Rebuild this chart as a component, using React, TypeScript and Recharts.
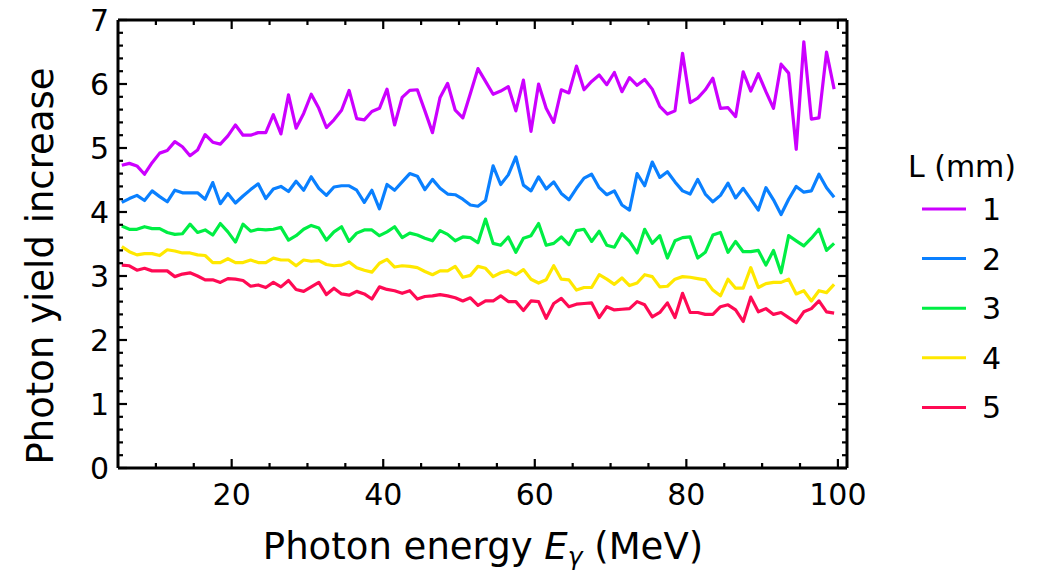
import React from 'react';
import { LineChart, Line, XAxis, YAxis, ReferenceLine } from 'recharts';

// Photon energy bin centres (MeV)
const energies = [
  5.5, 6.5, 7.5, 8.5, 9.5, 10.5, 11.5, 12.5, 13.5, 14.5, 15.5, 16.5, 17.5, 18.5, 19.5, 20.5,
  21.5, 22.5, 23.5, 24.5, 25.5, 26.5, 27.5, 28.5, 29.5, 30.5, 31.5, 32.5, 33.5, 34.5, 35.5, 36.5,
  37.5, 38.5, 39.5, 40.5, 41.5, 42.5, 43.5, 44.5, 45.5, 46.5, 47.5, 48.5, 49.5, 50.5, 51.5, 52.5,
  53.5, 54.5, 55.5, 56.5, 57.5, 58.5, 59.5, 60.5, 61.5, 62.5, 63.5, 64.5, 65.5, 66.5, 67.5, 68.5,
  69.5, 70.5, 71.5, 72.5, 73.5, 74.5, 75.5, 76.5, 77.5, 78.5, 79.5, 80.5, 81.5, 82.5, 83.5, 84.5,
  85.5, 86.5, 87.5, 88.5, 89.5, 90.5, 91.5, 92.5, 93.5, 94.5, 95.5, 96.5, 97.5, 98.5, 99.5,
];

// L = 1 mm
const yieldL1 = [
  4.73, 4.76, 4.72, 4.59, 4.77, 4.92, 4.96, 5.10, 5.02, 4.88, 4.97, 5.21, 5.09, 5.06, 5.19, 5.36,
  5.20, 5.20, 5.24, 5.24, 5.52, 5.22, 5.83, 5.31, 5.54, 5.84, 5.62, 5.32, 5.44, 5.59, 5.90, 5.46,
  5.44,
  5.57, 5.62, 5.92, 5.36, 5.79, 5.90, 5.91, 5.58, 5.24, 5.79, 6.01, 5.59, 5.47, 5.85, 6.24, 6.04,
  5.84, 5.89, 5.96, 5.58, 6.06, 5.26, 6.00, 5.62, 5.40, 5.91, 5.86, 6.28, 5.91, 6.04, 6.14, 5.99,
  6.18, 5.88, 6.10, 5.98, 6.07, 5.92, 5.65, 5.53, 5.58, 6.48, 5.71, 5.78, 5.91, 6.09, 5.62, 5.63,
  5.49, 6.19, 5.89, 6.16, 5.88, 5.62, 6.31, 6.17, 4.98, 6.66, 5.45, 5.47, 6.50, 5.92,
];

// L = 2 mm
const yieldL2 = [
  4.15, 4.21, 4.26, 4.18, 4.33, 4.24, 4.16, 4.34, 4.30, 4.30, 4.30, 4.20, 4.46, 4.13, 4.29, 4.14,
  4.25, 4.35, 4.44, 4.21, 4.36, 4.40, 4.32, 4.48, 4.34, 4.55, 4.37, 4.26, 4.39, 4.41, 4.41, 4.34,
  4.15,
  4.34, 4.05, 4.43, 4.34, 4.47, 4.60, 4.56, 4.35, 4.51, 4.37, 4.28, 4.27, 4.20, 4.11, 4.09, 4.18,
  4.72, 4.43, 4.58, 4.86, 4.42, 4.33, 4.55, 4.36, 4.47, 4.29, 4.19, 4.37, 4.53, 4.59, 4.38, 4.27,
  4.33, 4.11, 4.03, 4.60, 4.41, 4.78, 4.54, 4.63, 4.47, 4.33, 4.28, 4.51, 4.28, 4.16, 4.26, 4.45,
  4.22, 4.37, 4.20, 4.03, 4.38, 4.19, 3.96, 4.20, 4.40, 4.31, 4.33, 4.59, 4.38, 4.23,
];

// L = 3 mm
const yieldL3 = [
  3.78, 3.73, 3.73, 3.77, 3.74, 3.74, 3.68, 3.65, 3.66, 3.81, 3.68, 3.72, 3.64, 3.82, 3.69, 3.53,
  3.81, 3.70, 3.73, 3.72, 3.73, 3.76, 3.56, 3.63, 3.73, 3.79, 3.75, 3.56, 3.69, 3.77, 3.54, 3.67,
  3.72,
  3.72, 3.63, 3.69, 3.77, 3.60, 3.67, 3.64, 3.59, 3.55, 3.71, 3.65, 3.55, 3.61, 3.60, 3.52, 3.89,
  3.51, 3.48, 3.61, 3.37, 3.59, 3.63, 3.82, 3.48, 3.51, 3.61, 3.49, 3.71, 3.73, 3.54, 3.70, 3.48,
  3.45, 3.66, 3.54, 3.36, 3.73, 3.51, 3.63, 3.28, 3.55, 3.60, 3.61, 3.28, 3.37, 3.64, 3.68, 3.37,
  3.54, 3.38, 3.38, 3.40, 3.17, 3.40, 3.05, 3.63, 3.55, 3.47, 3.59, 3.73, 3.40, 3.51,
];

// L = 4 mm
const yieldL4 = [
  3.46, 3.38, 3.33, 3.35, 3.35, 3.32, 3.41, 3.39, 3.36, 3.36, 3.33, 3.32, 3.21, 3.21, 3.27, 3.21,
  3.21, 3.25, 3.21, 3.21, 3.28, 3.25, 3.25, 3.16, 3.25, 3.23, 3.24, 3.18, 3.16, 3.17, 3.22, 3.13,
  3.09,
  3.06, 3.20, 3.26, 3.14, 3.16, 3.15, 3.13, 3.07, 3.02, 3.08, 3.08, 3.15, 2.98, 3.01, 3.15, 3.12,
  2.99, 3.05, 3.08, 3.02, 3.10, 2.95, 2.89, 2.94, 3.16, 2.95, 2.94, 2.78, 2.82, 2.82, 3.02, 2.95,
  2.87, 2.97, 2.85, 2.89, 3.02, 2.99, 2.83, 2.84, 2.95, 2.99, 2.98, 2.96, 2.94, 2.78, 2.69, 2.95,
  2.81, 2.81, 3.13, 2.82, 2.88, 2.90, 2.90, 2.95, 2.72, 2.77, 2.61, 2.77, 2.74, 2.87,
];

// L = 5 mm
const yieldL5 = [
  3.17, 3.16, 3.09, 3.12, 3.08, 3.08, 3.08, 2.99, 3.03, 3.05, 3.00, 2.94, 2.94, 2.90, 2.96, 2.95,
  2.93, 2.84, 2.86, 2.82, 2.90, 2.83, 2.93, 2.79, 2.76, 2.83, 2.90, 2.71, 2.81, 2.72, 2.70, 2.76,
  2.72,
  2.64, 2.83, 2.79, 2.77, 2.73, 2.77, 2.64, 2.68, 2.69, 2.71, 2.69, 2.66, 2.61, 2.66, 2.54, 2.61,
  2.61, 2.69, 2.60, 2.60, 2.46, 2.61, 2.60, 2.34, 2.57, 2.65, 2.52, 2.56, 2.57, 2.58, 2.35, 2.52,
  2.47, 2.48, 2.49, 2.60, 2.55, 2.36, 2.43, 2.58, 2.35, 2.73, 2.43, 2.43, 2.40, 2.40, 2.52, 2.55,
  2.47, 2.29, 2.67, 2.44, 2.49, 2.40, 2.43, 2.35, 2.27, 2.44, 2.49, 2.61, 2.44, 2.42,
];

const seriesKeys = ['l1', 'l2', 'l3', 'l4', 'l5'];
const seriesNames = ['1', '2', '3', '4', '5'];
const seriesColors = ['#cc00ff', '#0a80ff', '#00ee44', '#ffe800', '#ff0a54'];
const seriesValues = [yieldL1, yieldL2, yieldL3, yieldL4, yieldL5];

const xTicks = [10, 15, 20, 25, 30, 35, 40, 45, 50, 55, 60, 65, 70, 75, 80, 85, 90, 95, 100];
const xMajorTicks = [20, 40, 60, 80, 100];
const yTicks = [
  0, 0.2, 0.4, 0.6, 0.8, 1, 1.2, 1.4, 1.6, 1.8, 2, 2.2, 2.4, 2.6, 2.8, 3, 3.2, 3.4, 3.6, 3.8,
  4, 4.2, 4.4, 4.6, 4.8, 5, 5.2, 5.4, 5.6, 5.8, 6, 6.2, 6.4, 6.6, 6.8, 7,
];
const yMajorTicks = [0, 1, 2, 3, 4, 5, 6, 7];
const xDomain = [5, 101.2];
const yDomain = [0, 7];

const legendTitle = 'L (mm)';
const xLabel = 'Photon energy ';
const yLabel = 'Photon yield increase';

const data = energies.map((e, i) => {
  const row: Record<string, number> = { e };
  seriesKeys.forEach((k, s) => {
    row[k] = seriesValues[s][i];
  });
  return row;
});

const W = 1038;
const H = 573;
const MARGIN = { top: 20, right: 191, bottom: 0, left: 0 };
const Y_AXIS_W = 118;
const X_AXIS_H = 105;
const PLOT_TOP = MARGIN.top;
const PLOT_RIGHT = W - MARGIN.right;
const FONT = "'DejaVu Sans', sans-serif";
const TICK_FS = 30;
const LABEL_FS = 37;
const FRAME_W = 3;
const TICK_W = 2.2;

function XTick(props: any) {
  const { x, y, payload } = props;
  const v = payload.value;
  const major = xMajorTicks.includes(v);
  const len = major ? 9 : 5;
  return (
    <g>
      <line x1={x} x2={x} y1={y} y2={y - len} stroke="#000" strokeWidth={TICK_W} />
      <line x1={x} x2={x} y1={PLOT_TOP} y2={PLOT_TOP + len} stroke="#000" strokeWidth={TICK_W} />
      {major && (
        <text x={x} y={y + 37} textAnchor="middle" fontSize={TICK_FS} fontFamily={FONT} fill="#000">
          {v}
        </text>
      )}
    </g>
  );
}

function YTick(props: any) {
  const { x, y, payload } = props;
  const v = payload.value;
  const major = yMajorTicks.some((m) => Math.abs(m - v) < 1e-6);
  const len = major ? 9 : 5;
  return (
    <g>
      <line x1={x} x2={x + len} y1={y} y2={y} stroke="#000" strokeWidth={TICK_W} />
      <line x1={PLOT_RIGHT} x2={PLOT_RIGHT - len} y1={y} y2={y} stroke="#000" strokeWidth={TICK_W} />
      {major && (
        <text x={x - 9} y={y + 11} textAnchor="end" fontSize={TICK_FS} fontFamily={FONT} fill="#000">
          {Math.round(v)}
        </text>
      )}
    </g>
  );
}

export default function App() {
  return (
    <div style={{ position: 'absolute', left: 0, top: 0, width: W, height: H, background: '#fff' }}>
      <LineChart width={W} height={H} data={data} margin={MARGIN}>
        <XAxis
          dataKey="e"
          type="number"
          domain={xDomain}
          ticks={xTicks}
          interval={0}
          allowDataOverflow
          height={X_AXIS_H}
          tickSize={0}
          tickMargin={0}
          tickLine={false}
          axisLine={{ stroke: '#000', strokeWidth: FRAME_W }}
          tick={<XTick />}
        />
        <YAxis
          type="number"
          domain={yDomain}
          ticks={yTicks}
          interval={0}
          allowDataOverflow
          width={Y_AXIS_W}
          tickSize={0}
          tickMargin={0}
          tickLine={false}
          axisLine={{ stroke: '#000', strokeWidth: FRAME_W }}
          tick={<YTick />}
        />
        <ReferenceLine y={yDomain[1]} stroke="#000" strokeWidth={FRAME_W} />
        <ReferenceLine x={xDomain[1]} stroke="#000" strokeWidth={FRAME_W} />
        {seriesKeys.map((k, i) => (
          <Line
            key={k}
            type="linear"
            dataKey={k}
            name={seriesNames[i]}
            stroke={seriesColors[i]}
            strokeWidth={3.2}
            strokeLinejoin="round"
            dot={false}
            activeDot={false}
            isAnimationActive={false}
          />
        ))}
      </LineChart>
      <svg
        width={W}
        height={H}
        style={{ position: 'absolute', left: 0, top: 0, pointerEvents: 'none' }}
        fontFamily={FONT}
      >
        <text x={483} y={559} textAnchor="middle" fontSize={LABEL_FS} fill="#000">
          {xLabel}
          <tspan fontStyle="italic">E</tspan>
          <tspan fontStyle="italic" fontSize={25} dy={6}>γ</tspan>
          <tspan dy={-6}>{' (MeV)'}</tspan>
        </text>
        <text
          transform="translate(53,266) rotate(-90)"
          textAnchor="middle"
          fontSize={LABEL_FS}
          fill="#000"
        >
          {yLabel}
        </text>
        <text x={962} y={177} textAnchor="middle" fontSize={TICK_FS} fill="#000">
          {legendTitle}
        </text>
        {seriesNames.map((n, i) => {
          const cy = 209 + i * 49.6;
          return (
            <g key={n}>
              <line x1={922} x2={966} y1={cy} y2={cy} stroke={seriesColors[i]} strokeWidth={3} />
              <text x={982} y={cy + 11} fontSize={TICK_FS} fill="#000">
                {n}
              </text>
            </g>
          );
        })}
      </svg>
    </div>
  );
}
